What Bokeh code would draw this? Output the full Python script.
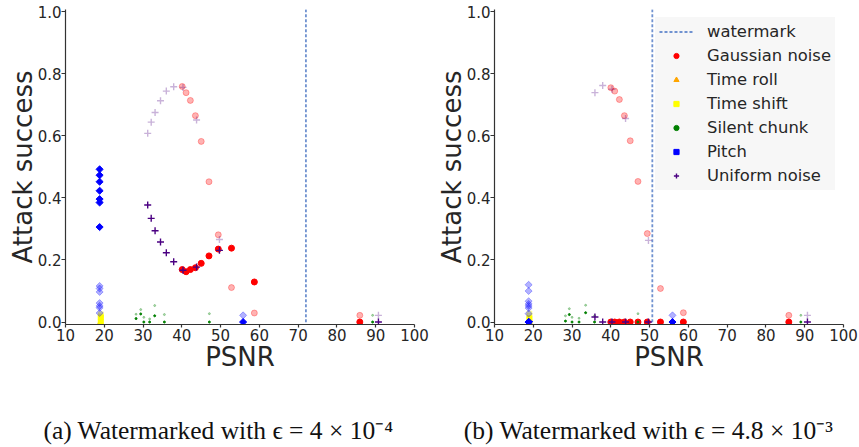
from bokeh.plotting import figure
from bokeh.layouts import row, column
from bokeh.models import Range1d, FixedTicker, PrintfTickFormatter, Legend, LegendItem, Label
from bokeh.embed import file_html
from bokeh.resources import INLINE

# ---------------- data: panel (a) ----------------
wm_a = 72.0
gauss_x_a = [40.1, 41.1, 42.2, 43.5, 45.0, 47.0, 49.4, 52.8, 58.7, 85.9]
gauss_y_a = [0.169, 0.162, 0.169, 0.175, 0.189, 0.213, 0.235, 0.238, 0.129, 0.0]
gauss_f_a = [0.759, 0.739, 0.714, 0.665, 0.582, 0.452, 0.281, 0.111, 0.029, 0.0215]
roll_x_a = [19.0]
roll_y_a = [0.0]
roll_f_a = [0.0]
shift_x_a = [19.1, 19.1]
shift_y_a = [0.015, 0.0]
shift_f_a = [0.025, 0.02]
silent_x_a = [28.2, 29.4, 30.2, 31.7, 33.0, 35.5, 47.1, 89.2]
silent_y_a = [0.011, 0.026, 0.0, 0.0, 0.02, 0.0, 0.0, 0.0]
silent_f_a = [0.025, 0.04, 0.015, 0.01, 0.053, 0.024, 0.027, 0.0215]
pitch_x_a = [18.8, 18.8, 18.8, 18.8, 18.8, 18.8, 18.8, 55.8]
pitch_y_a = [0.492, 0.473, 0.452, 0.423, 0.396, 0.385, 0.306, 0.0]
pitch_f_a = [0.116, 0.108, 0.097, 0.061, 0.052, 0.046, 0.029, 0.0215]
unif_x_a = [31.2, 32.1, 33.1, 34.5, 36.0, 37.9, 40.3, 43.8, 49.7, 90.7]
unif_y_a = [0.377, 0.334, 0.294, 0.258, 0.223, 0.194, 0.167, 0.177, 0.231, 0.0]
unif_f_a = [0.608, 0.644, 0.675, 0.713, 0.744, 0.758, 0.756, 0.651, 0.266, 0.0215]

# ---------------- data: panel (b) ----------------
wm_b = 50.7
gauss_x_b = [40.0, 41.0, 42.2, 43.5, 45.0, 47.0, 49.4, 52.8, 58.7, 85.9]
gauss_y_b = [0.0, 0.0, 0.0, 0.0, 0.0, 0.0, 0.0, 0.0, 0.0, 0.0]
gauss_f_b = [0.755, 0.744, 0.717, 0.665, 0.584, 0.453, 0.285, 0.108, 0.03, 0.0215]
roll_x_b = [19.0]
roll_y_b = [0.0]
roll_f_b = [0.0]
shift_x_b = [19.0, 19.0]
shift_y_b = [0.012, 0.0]
shift_f_b = [0.027, 0.02]
silent_x_b = [28.3, 29.3, 30.0, 31.8, 33.5, 35.8, 47.0, 89.0]
silent_y_b = [0.003, 0.024, 0.0, 0.0, 0.03, 0.0, 0.0, 0.0]
silent_f_b = [0.02, 0.043, 0.015, 0.012, 0.054, 0.02, 0.027, 0.0215]
pitch_x_b = [18.8, 18.8, 18.8, 18.8, 18.8, 18.8, 18.8, 55.9]
pitch_y_b = [0.0, 0.0, 0.0, 0.0, 0.0, 0.0, 0.0, 0.0]
pitch_f_b = [0.12, 0.10, 0.067, 0.058, 0.052, 0.045, 0.027, 0.0215]
unif_x_b = [35.9, 37.9, 40.3, 43.8, 49.7, 90.7]
unif_y_b = [0.016, 0.0, 0.0, 0.0, 0.0, 0.0]
unif_f_b = [0.739, 0.762, 0.75, 0.656, 0.263, 0.0215]

x_ticks = [10, 20, 30, 40, 50, 60, 70, 80, 90, 100]
y_ticks = [0.0, 0.2, 0.4, 0.6, 0.8, 1.0]
caption_a = "(a) Watermarked with \u03f5 = 4 \u00d7 10\u207b\u2074"
caption_b = "(b) Watermarked with \u03f5 = 4.8 \u00d7 10\u207b\u00b3"

FADE = 0.3
TXT = "#262626"


def panel(d, wm, width, mb_left, mb_right, with_legend):
    p = figure(width=width, height=400, x_range=Range1d(10, 100), y_range=Range1d(-0.008, 1.007),
               output_backend="svg", toolbar_location=None,
               min_border_left=mb_left, min_border_right=mb_right,
               min_border_top=9, min_border_bottom=76)
    p.outline_line_color = None
    p.grid.visible = False
    p.background_fill_color = "white"
    p.border_fill_color = "white"

    wm_r = p.line([wm, wm], [-1.0, 2.0], line_color="#7092d0", line_width=1.8, line_dash="3 2")

    def pair(x, yo, yf, **kw):
        p.scatter(x, yf, alpha=FADE, **kw)
        return p.scatter(x, yo, **kw)

    g = pair(d["gx"], d["gy"], d["gf"], marker="circle", size=6, color="#ff0000")
    tr = pair(d["rx"], d["ry"], d["rf"], marker="triangle", size=5, color="#ffa500")
    ts = pair(d["sx"], d["sy"], d["sf"], marker="square", size=5, color="#ffff00")
    sc = pair(d["cx"], d["cy"], d["cf"], marker="circle", size=2, color="#008000")
    pi = pair(d["px"], d["py"], d["pf"], marker="square", angle=0.785398, size=5, color="#0000ff")
    un = pair(d["ux"], d["uy"], d["uf"], marker="cross", size=7, line_width=1.4, color="#4b0082")

    for ax in (p.xaxis[0], p.yaxis[0]):
        ax.axis_line_color = "#333333"
        ax.axis_line_width = 1.2
        ax.major_tick_line_color = "#333333"
        ax.major_tick_line_width = 1.2
        ax.major_tick_in = 0
        ax.minor_tick_line_color = None
        ax.major_label_text_font = "DejaVu Sans"
        ax.major_label_text_font_size = "15px"
        ax.major_label_text_color = TXT
        ax.axis_label_text_font = "DejaVu Sans"
        ax.axis_label_text_font_size = "26px"
        ax.axis_label_text_font_style = "normal"
        ax.axis_label_text_color = TXT
    p.xaxis.ticker = FixedTicker(ticks=x_ticks)
    p.yaxis.ticker = FixedTicker(ticks=y_ticks)
    p.yaxis.formatter = PrintfTickFormatter(format="%.1f")
    p.xaxis.major_tick_out = 3
    p.yaxis.major_tick_out = 4
    p.xaxis.major_label_standoff = 1
    p.yaxis.major_label_standoff = 0
    p.xaxis.axis_label = "PSNR"
    p.yaxis.axis_label = "Attack success"
    p.xaxis.axis_label_standoff = -2
    p.yaxis.axis_label_standoff = -3

    if with_legend:
        items = [LegendItem(label="watermark", renderers=[wm_r]),
                 LegendItem(label="Gaussian noise", renderers=[g]),
                 LegendItem(label="Time roll", renderers=[tr]),
                 LegendItem(label="Time shift", renderers=[ts]),
                 LegendItem(label="Silent chunk", renderers=[sc]),
                 LegendItem(label="Pitch", renderers=[pi]),
                 LegendItem(label="Uniform noise", renderers=[un])]
        leg = Legend(items=items, location="top_right", margin=8, padding=4, spacing=3,
                     label_height=21, glyph_height=13, glyph_width=34, label_standoff=14,
                     label_text_font="DejaVu Sans", label_text_font_size="16.4px",
                     label_text_color=TXT, background_fill_color="#f7f7f7",
                     background_fill_alpha=1.0, border_line_alpha=0)
        p.add_layout(leg)
    return p


def caption_fig(width, text):
    c = figure(width=width, height=47, x_range=Range1d(0, 1), y_range=Range1d(0, 1),
               output_backend="svg", toolbar_location=None, min_border=0,
               x_axis_type=None, y_axis_type=None)
    c.outline_line_color = None
    c.grid.visible = False
    c.add_layout(Label(x=218, y=17, x_units="screen", y_units="screen", text=text,
                       text_align="center", text_baseline="alphabetic",
                       text_font="Liberation Serif", text_font_size="25.5px",
                       text_color="#111111"))
    return c


da = dict(gx=gauss_x_a, gy=gauss_y_a, gf=gauss_f_a, rx=roll_x_a, ry=roll_y_a, rf=roll_f_a,
          sx=shift_x_a, sy=shift_y_a, sf=shift_f_a, cx=silent_x_a, cy=silent_y_a, cf=silent_f_a,
          px=pitch_x_a, py=pitch_y_a, pf=pitch_f_a, ux=unif_x_a, uy=unif_y_a, uf=unif_f_a)
db = dict(gx=gauss_x_b, gy=gauss_y_b, gf=gauss_f_b, rx=roll_x_b, ry=roll_y_b, rf=roll_f_b,
          sx=shift_x_b, sy=shift_y_b, sf=shift_f_b, cx=silent_x_b, cy=silent_y_b, cf=silent_f_b,
          px=pitch_x_b, py=pitch_y_b, pf=pitch_f_b, ux=unif_x_b, uy=unif_y_b, uf=unif_f_b)

p1 = panel(da, wm_a, 430, 65, 16, False)
p2 = panel(db, wm_b, 429, 64, 16, True)
c1 = caption_fig(430, caption_a)
c2 = caption_fig(429, caption_b)

layout = column(row(p1, p2), row(c1, c2))
open("out.html", "w").write(file_html(layout, INLINE))
